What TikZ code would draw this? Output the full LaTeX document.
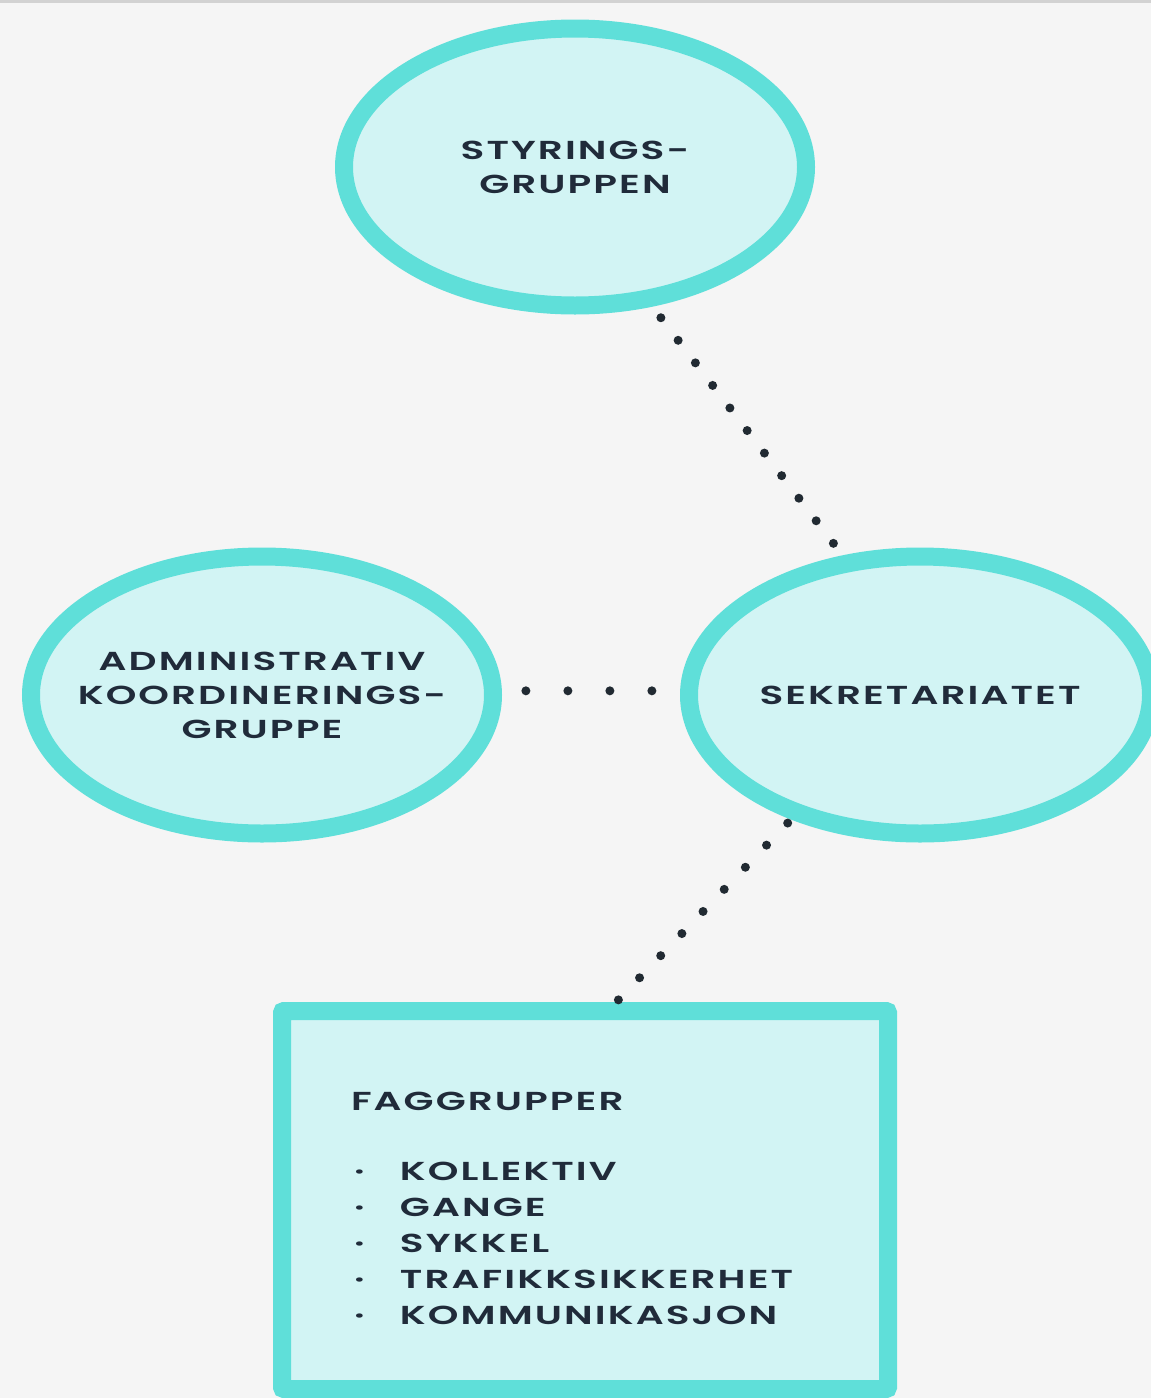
\documentclass[tikz,border=0pt]{standalone}
\usepackage{fontspec}
\setmainfont{Poppins}
\newfontfamily\lblfont{Poppins SemiBold}[FakeStretch=1.5, LetterSpace=8]
\usetikzlibrary{shapes.geometric, positioning}
\definecolor{bgcolor}{RGB}{245,245,245}
\definecolor{ringcolor}{RGB}{95,223,217}
\definecolor{fillcolor}{RGB}{210,244,244}
\definecolor{txtcolor}{RGB}{32,43,58}
\definecolor{dotcolor}{RGB}{33,42,50}

\begin{document}
\begin{tikzpicture}[
    x=1pt, y=-1pt,
    group/.style={ellipse, draw=ringcolor, fill=fillcolor, line width=18pt, minimum width=462pt, minimum height=277pt, inner xsep=-40pt, inner ysep=0pt, align=center, text=txtcolor, font=\lblfont\fontsize{26}{34}\selectfont},
    listbox/.style={rectangle, draw=ringcolor, fill=fillcolor, line width=18pt, rounded corners=2pt, minimum width=606pt, minimum height=378pt, inner sep=0pt, text width=468pt, align=left, text=txtcolor, font=\lblfont\fontsize{26}{36}\selectfont},
    dotline/.style={draw=dotcolor, line width=9pt, line cap=round, dash pattern=on 0pt off #1}
]
    \useasboundingbox (0,0) rectangle (1151,1398);
    \fill[bgcolor] (0,0) rectangle (1151,1398);
    \draw[gray!35, line width=3pt] (0,1.5) -- (1151,1.5);
    \clip (0,0) rectangle (1151,1398);

    % Groups
    \node[group] (styr) at (575,167) {STYRINGS-\\GRUPPEN};
    \node[group] (adm) at (262,695) {ADMINISTRATIV\\KOORDINERINGS-\\GRUPPE};
    \node[group] (sek) at (920,695) {SEKRETARIATET};

    % Faggrupper
    \node[listbox] (faggr) at (585,1200) {\rule{0pt}{20pt}\\[-20pt]FAGGRUPPER\\[34pt]
        \makebox[49pt][l]{\hspace{3pt}·}KOLLEKTIV\\
        \makebox[49pt][l]{\hspace{3pt}·}GANGE\\
        \makebox[49pt][l]{\hspace{3pt}·}SYKKEL\\
        \makebox[49pt][l]{\hspace{3pt}·}TRAFIKKSIKKERHET\\
        \makebox[49pt][l]{\hspace{3pt}·}KOMMUNIKASJON};

    % Connections
    \draw[dotline=28.4pt, shorten <=14pt] (styr.-61) -- (sek.119);
    \draw[dotline=42pt, shorten <=24pt] (adm.1) -- (sek.179);
    \draw[dotline=30.6pt, shorten <=5pt] (sek.-136) -- (faggr.81);
\end{tikzpicture}
\end{document}
